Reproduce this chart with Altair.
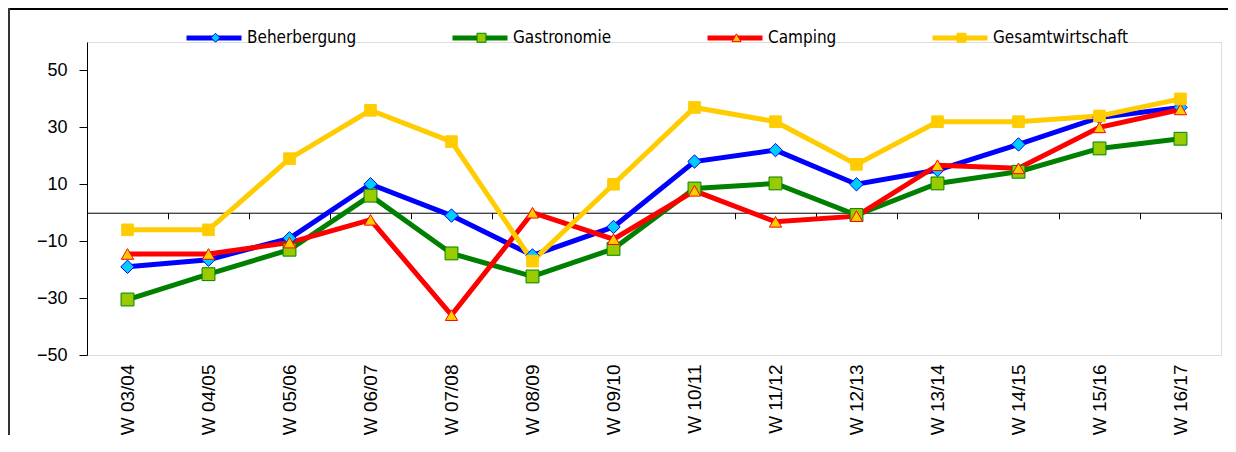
import altair as alt
import pandas as pd

periods = ["W 03/04", "W 04/05", "W 05/06", "W 06/07", "W 07/08", "W 08/09", "W 09/10",
           "W 10/11", "W 11/12", "W 12/13", "W 13/14", "W 14/15", "W 15/16", "W 16/17"]
series = ["Beherbergung", "Gastronomie", "Camping", "Gesamtwirtschaft"]
beherbergung = [-19, -16.5, -9, 10, -1, -15, -5, 18, 22, 10, 15, 24, 33.5, 37]
gastronomie = [-30.5, -21.6, -13, 6, -14.3, -22.4, -12.7, 8.5, 10.3, -0.8, 10.3, 14.4, 22.6, 26]
camping = [-14.5, -14.5, -10.5, -2.5, -36, 0, -9.3, 7.7, -3.2, -1.2, 16.7, 15.6, 30, 36.3]
gesamtwirtschaft = [-6, -6, 19, 36, 25, -17, 10, 37, 32, 17, 32, 32, 34, 40]
y_ticks = [-50, -30, -10, 10, 30, 50]

line_colors = ["#0000FF", "#008000", "#FF0000", "#FFCC00"]
marker_fills = ["#00CCFF", "#99CC00", "#FFCC00", "#FFCC00"]
marker_shapes = ["diamond", "square", "triangle-up", "square"]
marker_sizes = [150, 125, 180, 135]

rows = []
for name, vals in zip(series, [beherbergung, gastronomie, camping, gesamtwirtschaft]):
    for p, v in zip(periods, vals):
        rows.append({"period": p, "value": v, "series": name, "series_l": name, "series_s": name})
df = pd.DataFrame(rows)

W, H = 1134, 313
LABEL_FONT = "Liberation Sans"
LEG_FONT = "DejaVu Sans Condensed"
LEG_X, LEG_Y = 97, -34

yscale = alt.Scale(domain=[-50, 60], nice=False, zero=False)
yaxis = alt.Axis(values=y_ticks, title=None, grid=False, domainColor="black", tickColor="black",
                 tickSize=8, labelPadding=12, labelFontSize=18, labelFont=LABEL_FONT,
                 labelColor="black")

zero_axis = alt.Chart(df).mark_point(opacity=0).encode(
    x=alt.X("period:N", sort=periods,
            scale=alt.Scale(type="band", paddingInner=0, paddingOuter=0),
            axis=alt.Axis(orient="bottom", offset=-H * 50 / 110, labels=False, title=None,
                          domainColor="black", domainWidth=1, tickColor="black",
                          tickBand="extent", tickSize=6, tickWidth=1)),
    y=alt.Y("value:Q", scale=yscale, axis=yaxis),
)

xenc = alt.X("period:N", sort=periods,
             axis=alt.Axis(orient="bottom", title=None, domain=False, ticks=False,
                           labelAngle=270, labelPadding=9, labelFontSize=19,
                           labelFont=LABEL_FONT, labelColor="black"))

line_leg = alt.Legend(orient="none", legendX=LEG_X, legendY=LEG_Y, direction="horizontal",
                      title=None, symbolType="stroke", symbolSize=3025, symbolStrokeWidth=5,
                      labelFont=LEG_FONT, labelFontSize=17, labelOffset=3, columnPadding=85,
                      padding=0, labelLimit=400, labelColor="black")
mark_leg = alt.Legend(orient="none", legendX=LEG_X, legendY=LEG_Y + 21, direction="horizontal",
                      title=None, symbolSize=81, symbolStrokeWidth=1,
                      labelFont=LEG_FONT, labelFontSize=17, labelOffset=31, symbolOffset=23,
                      columnPadding=85, padding=0, labelLimit=400, labelOpacity=0)

lines = alt.Chart(df).mark_line(strokeWidth=5).encode(
    x=xenc,
    y=alt.Y("value:Q", scale=yscale, axis=yaxis),
    color=alt.Color("series_l:N", sort=series, scale=alt.Scale(range=line_colors),
                    legend=line_leg),
)

points = alt.Chart(df).mark_point(filled=True, strokeWidth=1, opacity=1).encode(
    x=xenc,
    y=alt.Y("value:Q", scale=yscale),
    shape=alt.Shape("series:N", scale=alt.Scale(domain=series, range=marker_shapes), legend=mark_leg),
    fill=alt.Fill("series:N", scale=alt.Scale(domain=series, range=marker_fills), legend=mark_leg),
    stroke=alt.Stroke("series:N", scale=alt.Scale(domain=series, range=line_colors), legend=mark_leg),
    size=alt.Size("series_s:N", scale=alt.Scale(domain=series[::-1], range=marker_sizes[::-1]),
                  legend=None),
)

frame_top = alt.Chart(df).mark_rule(color="black", strokeWidth=2).encode(
    x=alt.value(-80), x2=alt.value(W + 10), y=alt.value(-33))
frame_left = alt.Chart(df).mark_rule(color="#333333", strokeWidth=2).encode(
    x=alt.value(-78), y=alt.value(-34), y2=alt.value(H + 100))

chart = alt.layer(
    zero_axis,
    alt.layer(lines, points),
    frame_top,
    frame_left,
).resolve_scale(x="independent").properties(
    width=W, height=H,
    autosize=alt.AutoSizeParams(type="none"),
    padding={"left": 79, "top": 34, "right": 7, "bottom": 80},
).configure_view(strokeWidth=0).configure(background="white")

chart.save("out.html", embed_options={"renderer": "svg", "actions": False})
